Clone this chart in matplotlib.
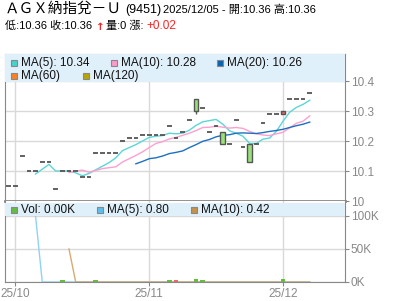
import matplotlib
matplotlib.use('Agg')
import matplotlib.pyplot as plt
from matplotlib.patches import Rectangle

# daily prices, 2025/09/30 .. 2025/12/05 (46 trading days)
opens = [10.05, 10.05, 10.15, 10.10, 10.10, 10.13, 10.13, 10.04, 10.10, 10.10,
         10.10, 10.08, 10.08, 10.16, 10.16, 10.16, 10.16, 10.20, 10.21, 10.21,
         10.22, 10.22, 10.22, 10.22, 10.25, 10.21, 10.23, 10.27, 10.34, 10.31,
         10.23, 10.25, 10.23, 10.19, 10.27, 10.18, 10.19, 10.19, 10.26, 10.29,
         10.29, 10.29, 10.34, 10.34, 10.34, 10.36]
closes = [10.05, 10.05, 10.15, 10.10, 10.10, 10.13, 10.13, 10.04, 10.10, 10.10,
          10.10, 10.08, 10.08, 10.16, 10.16, 10.16, 10.16, 10.20, 10.21, 10.21,
          10.22, 10.22, 10.22, 10.22, 10.25, 10.21, 10.23, 10.27, 10.30, 10.31,
          10.23, 10.25, 10.19, 10.19, 10.27, 10.18, 10.13, 10.19, 10.26, 10.29,
          10.29, 10.30, 10.34, 10.34, 10.34, 10.36]
lows = list(closes)
lows[28] = 10.29

# moving averages
ma5 = [10.090, 10.106, 10.122, 10.100, 10.100, 10.100, 10.094, 10.084, 10.092,
       10.104, 10.116, 10.128, 10.144, 10.168, 10.178, 10.188, 10.200, 10.212,
       10.216, 10.218, 10.226, 10.224, 10.226, 10.236, 10.252, 10.264, 10.268,
       10.272, 10.256, 10.234, 10.226, 10.216, 10.192, 10.192, 10.206, 10.210,
       10.232, 10.266, 10.296, 10.312, 10.322, 10.336]
ma10 = [10.095, 10.100, 10.103, 10.096, 10.102, 10.108, 10.111, 10.114, 10.130,
        10.141, 10.152, 10.164, 10.178, 10.192, 10.198, 10.207, 10.212, 10.219,
        10.226, 10.235, 10.245, 10.246, 10.249, 10.246, 10.243, 10.245, 10.242,
        10.232, 10.224, 10.220, 10.218, 10.224, 10.229, 10.244, 10.259, 10.266,
        10.284]
ma20 = [10.124, 10.132, 10.141, 10.144, 10.150, 10.158, 10.162, 10.167, 10.178,
        10.188, 10.199, 10.205, 10.214, 10.219, 10.221, 10.226, 10.227, 10.226,
        10.225, 10.228, 10.232, 10.235, 10.239, 10.245, 10.251, 10.256, 10.263]

# volume (only a few tiny trades)
vol_days = [8, 13, 24, 25, 28, 29, 41]
vol_vals = [3500, 3500, 3500, 3500, 5000, 3000, 4000]
vol_cols = ['#66bb44', '#66bb44', '#66bb44', '#ee6666', '#66bb44', '#66bb44', '#66bb44']
vol_ma5 = [100000, 0, 0, 0, 0.2, 0.2, 0.2, 0.2, 0.2, 0.2, 0.2, 0.2, 0.2, 0.2,
           0, 0, 0, 0, 0, 0.2, 0.4, 0.4, 0.4, 0.8, 1.0, 0.6, 0.6, 0.6, 0.2, 0,
           0, 0, 0, 0.8, 0.8, 0.8, 0.8, 0.8, 0.8, 0.8, 0.8, 0.8]
vol_ma10 = [50000, 0.1, 0.1, 0.1, 0.1, 0.1, 0.1, 0.1, 0.1, 0.1, 0.1, 0.1, 0.1,
            0.2, 0.3, 0.4, 0.5, 0.6, 0.5, 0.4, 0.3, 0.2, 0.2, 0.2, 0.2, 0.2,
            0.1, 0.1, 0.1, 0.4, 0.4, 0.4, 0.4, 0.4, 0.4, 0.42, 0.42]

tick_pos = [1, 21, 41]
tick_labels = ['25/10', '25/11', '25/12']

W, H = 400, 301
GRAY = '#888888'
GRID = '#d9d9d9'
FONT = ['Liberation Sans', 'Noto Sans CJK TC', 'DejaVu Sans']

fig = plt.figure(figsize=(4, 3.01), dpi=100)


def fx(x):
    return x / W


def fy(y):
    return 1 - y / H


ax = fig.add_axes([fx(5), fy(201), fx(340), 147 / H])
vax = fig.add_axes([fx(5), fy(282), fx(340), 81 / H])

n = len(closes)
x0, x1 = -0.57, 50.27

# --- price panel ---
for i in range(n):
    o, c = opens[i], closes[i]
    if o == c:
        ax.hlines(c, i - 0.35, i + 0.35, color='#555555', lw=1.3, zorder=3)
    else:
        col = '#99e07a' if c < o else '#e06868'
        if lows[i] < min(o, c):
            ax.vlines(i, lows[i], min(o, c), color='#555555', lw=1, zorder=3)
        ax.add_patch(Rectangle((i - 0.35, min(o, c)), 0.7, abs(c - o),
                               facecolor=col, edgecolor='#555555', lw=1, zorder=4))

ax.plot(range(4, n), ma5, color='#5ad6d6', lw=1.0, zorder=2)
ax.plot(range(9, n), ma10, color='#ff9fcf', lw=1.0, zorder=2)
ax.plot(range(19, n), ma20, color='#1f6fc0', lw=1.0, zorder=2)

ax.set_xlim(x0, x1)
ax.set_ylim(10.0, 10.49)
ax.set_yticks([10.0, 10.1, 10.2, 10.3, 10.4])
ax.set_yticklabels(['10', '10.1', '10.2', '10.3', '10.4'])
ax.set_xticks(tick_pos)
ax.tick_params(axis='x', length=0, labelbottom=False)
ax.yaxis.tick_right()
ax.tick_params(axis='y', length=3, color=GRAY, labelcolor=GRAY, labelsize=8.5, pad=1)
for lab in ax.get_yticklabels():
    lab.set_family(FONT)
ax.grid(True, color=GRID, lw=1)
ax.set_axisbelow(True)
for s in ['left', 'right', 'top']:
    ax.spines[s].set_color(GRAY)
ax.spines['bottom'].set_color(GRAY)
ax.spines['bottom'].set_linewidth(2)
ax.add_patch(Rectangle((0, 1 - 28 / 147), 1, 28 / 147, transform=ax.transAxes,
                       facecolor='#dff0fa', edgecolor='none', zorder=5))

# --- volume panel ---
vax.bar(vol_days, vol_vals, width=0.7, color=vol_cols, zorder=3)
vax.plot(range(4, n), vol_ma5, color='#8fd3f2', lw=1.0, zorder=2)
vax.plot(range(9, n), vol_ma10, color='#d8aa70', lw=1.0, zorder=2)
vax.set_xlim(x0, x1)
vax.set_ylim(0, 122700)
vax.set_yticks([0, 50000, 100000])
vax.set_yticklabels(['0K', '50K', '100K'])
vax.yaxis.tick_right()
vax.tick_params(axis='y', length=3, color=GRAY, labelcolor=GRAY, labelsize=8.5, pad=1)
vax.set_xticks(tick_pos)
vax.set_xticklabels(tick_labels)
vax.tick_params(axis='x', length=3, color=GRAY, labelcolor=GRAY, labelsize=8.5, pad=1)
for lab in vax.get_xticklabels() + vax.get_yticklabels():
    lab.set_family(FONT)
vax.grid(True, color=GRID, lw=1)
vax.set_axisbelow(True)
for s in ['left', 'right', 'bottom']:
    vax.spines[s].set_color(GRAY)
vax.spines['top'].set_visible(False)
vax.add_patch(Rectangle((0, 1 - 15 / 81), 1, 13 / 81, transform=vax.transAxes,
                        facecolor='#dff0fa', edgecolor='none', zorder=5))


# --- legends ---
def legend_item(x, y, color, label):
    fig.add_artist(Rectangle((fx(x), fy(y + 3)), fx(6), 6 / H, facecolor=color,
                             edgecolor='#888888', lw=0.8, transform=fig.transFigure))
    fig.text(fx(x + 10), fy(y), label, fontsize=8.5, family=FONT, va='center',
             color='#111111')


legend_item(11, 63, '#44d4cc', 'MA(5): 10.34')
legend_item(111, 63, '#ff99cc', 'MA(10): 10.28')
legend_item(217, 63, '#0a64b4', 'MA(20): 10.26')
legend_item(11, 76, '#ff8020', 'MA(60)')
legend_item(83, 76, '#b8a600', 'MA(120)')
legend_item(11, 210, '#66bb44', 'Vol: 0.00K')
legend_item(97, 210, '#5bc0eb', 'MA(5): 0.80')
legend_item(191, 210, '#c8914a', 'MA(10): 0.42')

# --- header ---
fig.text(fx(5), fy(9), 'ＡＧＸ納指兌－Ｕ', fontsize=10.5, family='Noto Sans CJK TC',
         va='center')
fig.text(fx(125), fy(10), '(9451)', fontsize=9, family=FONT, va='center')
fig.text(fx(163), fy(10), '2025/12/05 - 開:10.36 高:10.36', fontsize=8,
         family=FONT, va='center')
fig.text(fx(5), fy(26), '低:10.36 收:10.36', fontsize=8, family=FONT, va='center')
fig.text(fx(96), fy(27), '↑', fontsize=7.5, family=['DejaVu Sans'], va='center',
         color='#ee2222', fontweight='bold')
fig.text(fx(106), fy(26), '量:0 漲:', fontsize=8, family=FONT, va='center')
fig.text(fx(146), fy(26), '+0.02', fontsize=8.5, family=FONT, va='center',
         color='#ff2222')

fig.savefig('out.png', dpi=100)
